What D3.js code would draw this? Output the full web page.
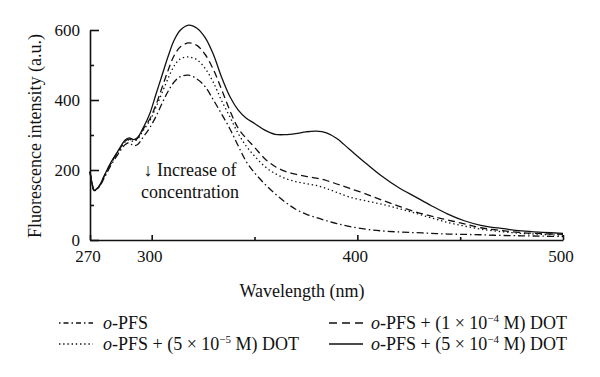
<!DOCTYPE html>
<html>
<head>
<meta charset="utf-8">
<script src="https://cdn.jsdelivr.net/npm/d3@7"></script>
<style>
  body { margin: 0; background: #fff; }
  svg { display: block; }
</style>
</head>
<body>
<svg id="chart" width="600" height="377"></svg>
<script>
// wavelengths (nm) shared by every spectrum
const wavelengths = [270, 271, 272, 274, 277, 280, 284, 287, 289, 291, 293, 296, 299, 302, 305, 308,
  311, 314, 318, 322, 326, 330, 334, 338, 342, 346, 350, 355, 360, 365, 370, 375, 380, 385, 390,
  396, 404, 412, 420, 428, 436, 444, 452, 460, 470, 480, 490, 500];

// fluorescence intensity (a.u.)
const pfs = [195, 160, 141, 148, 178, 212, 248, 272, 278, 270, 272, 295, 320, 352, 390, 425,
  452, 467, 471, 460, 438, 400, 360, 318, 270, 224, 192, 160, 132, 108, 88, 74, 64, 55, 47,
  39, 31, 26, 23, 21, 19, 17, 16, 15, 13, 12, 11, 10];
const dot5e5 = [195, 162, 143, 150, 182, 216, 254, 280, 286, 282, 288, 314, 340, 378, 420, 462,
  498, 518, 523, 515, 490, 450, 398, 352, 305, 268, 240, 210, 190, 176, 167, 161, 156, 147, 136,
  123, 112, 102, 90, 77, 63, 50, 40, 31, 24, 19, 16, 14];
const dot1e4 = [195, 162, 143, 150, 183, 218, 256, 282, 288, 284, 290, 318, 345, 385, 435, 485,
  528, 552, 563, 556, 530, 487, 430, 370, 320, 290, 265, 232, 210, 196, 188, 182, 177, 170, 160,
  148, 132, 114, 97, 81, 68, 57, 46, 35, 27, 21, 18, 16];
const dot5e4 = [195, 162, 143, 150, 185, 220, 258, 285, 292, 287, 292, 322, 360, 415, 470, 525,
  572, 600, 614, 605, 578, 530, 465, 410, 372, 348, 333, 314, 302, 301, 304, 309, 311, 306, 290,
  260, 220, 182, 150, 124, 98, 74, 55, 42, 33, 26, 22, 19];

const xMajor = [270, 300, 400, 500];
const xMinor = [350, 450];
const yMajor = [0, 200, 400, 600];
const yMinor = [100, 300, 500];

const seriesNames = ["pfs", "dot5e5", "dot1e4", "dot5e4"];
const seriesValues = [pfs, dot5e5, dot1e4, dot5e4];
const dashes = {pfs: "7,3,1.5,3", dot5e5: "1.4,2.8", dot1e4: "7,4", dot5e4: null};
const legendDashes = {pfs: "1.5,3,5,3", dot5e5: "1.4,2.8", dot1e4: "8,5", dot5e4: null};

const FONT = "'Liberation Serif'";

// make sure the serif face is matched before the SVG text is laid out
const ctx = document.createElement("canvas").getContext("2d");
["17px", "18px", "11px", "italic 18px"].forEach(s => {
  ctx.font = s + " " + FONT + ", monospace";
  ctx.measureText("Wavelength (nm) 0123456789 o-PFS DOT");
});

const svg = d3.select("#chart").style("font-family", FONT);

const x = d3.scaleLinear().domain([270, 500]).range([90, 563]);
const y = d3.scaleLinear().domain([0, 600]).range([240, 30]);

// ---- axes (ticks point inward)
svg.append("g").attr("transform", "translate(90,0)")
  .call(d3.axisLeft(y).tickValues(yMajor).tickSize(-9).tickSizeOuter(0).tickPadding(10));
svg.append("g").attr("transform", "translate(90,0)")
  .call(d3.axisLeft(y).tickValues(yMinor).tickSize(-4).tickSizeOuter(0).tickFormat(""))
  .select(".domain").remove();

const xAxis = svg.append("g").attr("transform", "translate(0,240)")
  .call(d3.axisBottom(x).tickValues(xMajor).tickSize(-5).tickSizeOuter(0).tickPadding(10));
svg.append("g").attr("transform", "translate(0,240)")
  .call(d3.axisBottom(x).tickValues(xMinor).tickSize(-3).tickSizeOuter(0).tickFormat(""))
  .select(".domain").remove();

svg.selectAll("g").attr("font-family", FONT);
svg.selectAll(".tick text")
  .attr("font-family", FONT)
  .attr("font-size", 17)
  .attr("fill", "#111");
xAxis.selectAll(".tick text").attr("dx", -2.5);
svg.selectAll(".domain, .tick line").attr("stroke", "#111").attr("stroke-width", 1.6);

// ---- spectra
const line = d3.line()
  .x(d => x(d[0]))
  .y(d => y(d[1]))
  .curve(d3.curveCatmullRom);

seriesNames.forEach((name, i) => {
  const pts = wavelengths.map((w, j) => [w, seriesValues[i][j]]);
  svg.append("path")
    .datum(pts)
    .attr("d", line)
    .attr("fill", "none")
    .attr("stroke", "#111")
    .attr("stroke-width", 1.3)
    .attr("stroke-dasharray", dashes[name]);
});

// ---- titles
function label(xp, yp, str) {
  return svg.append("text")
    .attr("x", xp).attr("y", yp)
    .attr("text-anchor", "middle")
    .attr("font-family", FONT)
    .attr("font-size", 18)
    .attr("fill", "#111")
    .text(str);
}

label(302, 297, "Wavelength (nm)");
label(0, 0, "Fluorescence intensity (a.u.)")
  .attr("transform", "translate(41,136) rotate(-90)");

// annotation
label(190, 176, "\u2193 Increase of");
label(190, 198, "concentration");

// ---- legend
const legendItems = [
  {name: "pfs", sx: 59, tx: 103, by: 329, exp: null},
  {name: "dot5e5", sx: 59, tx: 103, by: 350, exp: "\u22125"},
  {name: "dot1e4", sx: 329, tx: 371, by: 329, exp: "\u22124"},
  {name: "dot5e4", sx: 329, tx: 371, by: 350, exp: "\u22124"}
];
const conc = {dot5e5: "5", dot1e4: "1", dot5e4: "5"};

legendItems.forEach(it => {
  svg.append("line")
    .attr("x1", it.sx).attr("x2", it.sx + 34)
    .attr("y1", it.by - 6).attr("y2", it.by - 6)
    .attr("stroke", "#111")
    .attr("stroke-width", 1.3)
    .attr("stroke-dasharray", legendDashes[it.name]);

  const t = svg.append("text")
    .attr("x", it.tx).attr("y", it.by)
    .attr("font-family", FONT)
    .attr("font-size", 18)
    .attr("fill", "#111");
  t.append("tspan").attr("font-style", "italic").text("o");
  if (it.exp === null) {
    t.append("tspan").text("-PFS");
  } else {
    t.append("tspan").text("-PFS + (" + conc[it.name] + " \u00d7 10");
    t.append("tspan").attr("font-size", 11).attr("dy", -7).text(it.exp);
    t.append("tspan").attr("dy", 7).text(" M) DOT");
  }
});
</script>
</body>
</html>
